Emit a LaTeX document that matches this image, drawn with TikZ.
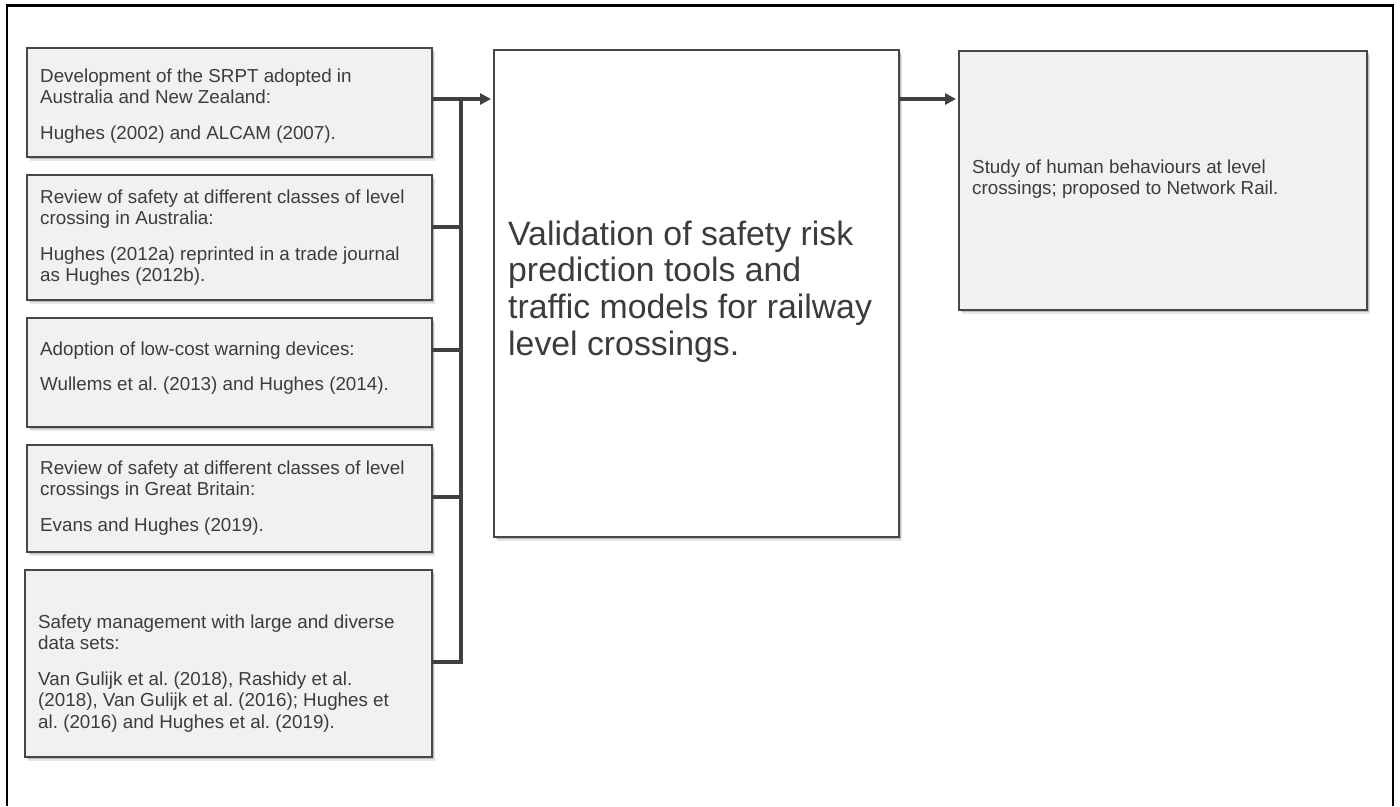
\documentclass[tikz,border=0pt]{standalone}
\usepackage{fontspec}
\setmainfont{Liberation Sans}
\usetikzlibrary{shadows,arrows.meta,calc}
\frenchspacing
\definecolor{txt}{HTML}{3C3C3C}
\definecolor{boxfill}{HTML}{F1F1F1}
\definecolor{boxline}{HTML}{474747}
\definecolor{conncol}{HTML}{404040}
\tikzset{
  softshadow/.style={
    general shadow={fill=black, opacity=0.18, shadow xshift=1.5pt, shadow yshift=-2pt},
    general shadow={fill=black, opacity=0.10, shadow xshift=3pt, shadow yshift=-4pt}},
  srcbox/.style={draw=boxline, line width=1.8pt, fill=boxfill, softshadow},
  mainbox/.style={draw=boxline, line width=1.8pt, fill=white, softshadow},
  boxtext/.style={inner sep=0pt, anchor=base west, text=txt},
  conn/.style={draw=conncol, line width=3.5pt, line join=miter},
  arr/.style={conn, -{Triangle[length=11pt,width=11pt]}, shorten >=3pt}
}
\newcommand{\smalltxt}[1]{\parbox[t]{400pt}{\frenchspacing\fontsize{18.8pt}{21.6pt}\selectfont\raggedright #1}}
\newcommand{\bigtxt}[1]{\parbox[t]{395pt}{\frenchspacing\fontsize{33.8pt}{36.7pt}\selectfont\raggedright #1}}
\begin{document}
\begin{tikzpicture}[x=1pt,y=-1pt]
\useasboundingbox (0,0) rectangle (1400,806);
% outer frame (bottom edge lies outside the picture)
\draw[line width=2.8pt, line cap=butt] (7,806) -- (7,5.7) -- (1393,5.7) -- (1393,806);

% source boxes
\path[srcbox] (27,48) rectangle (432,157);
\node[inner sep=0pt, minimum width=405pt, minimum height=109pt, anchor=north west] (b1) at (27,48) {};
\path[srcbox] (27,175) rectangle (432,300);
\node[inner sep=0pt, minimum width=405pt, minimum height=125pt, anchor=north west] (b2) at (27,175) {};
\path[srcbox] (27,318) rectangle (432,427);
\node[inner sep=0pt, minimum width=405pt, minimum height=109pt, anchor=north west] (b3) at (27,318) {};
\path[srcbox] (27,445) rectangle (432,552);
\node[inner sep=0pt, minimum width=405pt, minimum height=107pt, anchor=north west] (b4) at (27,445) {};
\path[srcbox] (25,570) rectangle (432,757);
\node[inner sep=0pt, minimum width=407pt, minimum height=187pt, anchor=north west] (b5) at (25,570) {};

% main and result boxes
\path[mainbox] (494,50) rectangle (899,537);
\node[inner sep=0pt, minimum width=405pt, minimum height=487pt, anchor=north west] (c) at (494,50) {};
\path[srcbox] (959,51) rectangle (1367,310);
\node[inner sep=0pt, minimum width=408pt, minimum height=259pt, anchor=north west] (r) at (959,51) {};

% texts
\node[boxtext] (t1) at (40,82) {\smalltxt{Development of the SRPT adopted in\\Australia and New Zealand:\\[14pt]Hughes (2002) and ALCAM (2007).}};
\node[boxtext] (t2) at (40,203) {\smalltxt{Review of safety at different classes of level\\crossing in Australia:\\[14pt]Hughes (2012a) reprinted in a trade journal\\as Hughes (2012b).}};
\node[boxtext] (t3) at (40,355) {\smalltxt{Adoption of low-cost warning devices:\\[14pt]Wullems et al. (2013) and Hughes (2014).}};
\node[boxtext] (t4) at (40,474) {\smalltxt{Review of safety at different classes of level\\crossings in Great Britain:\\[14pt]Evans and Hughes (2019).}};
\node[boxtext] (t5) at (38,628) {\smalltxt{Safety management with large and diverse\\data sets:\\[14pt]Van Gulijk et al. (2018), Rashidy et al.\\(2018), Van Gulijk et al. (2016); Hughes et\\al. (2016) and Hughes et al. (2019).}};
\node[boxtext] (tc) at (508,245) {\bigtxt{Validation of safety risk\\prediction tools and\\traffic models for railway\\level crossings.}};
\node[boxtext] (tr) at (972,173) {\smalltxt{Study of human behaviours at level\\crossings; proposed to Network Rail.}};

% connectors
\coordinate (bus1) at (461,99);
\coordinate (bus2) at (461,227);
\coordinate (bus3) at (461,350);
\coordinate (bus4) at (461,497);
\coordinate (bus5) at (461,662);
\draw[conn] (b5.east |- bus5) -- (bus5) -- (bus1);
\draw[conn] (b2.east |- bus2) -- (bus2);
\draw[conn] (b3.east |- bus3) -- (bus3);
\draw[conn] (b4.east |- bus4) -- (bus4);
\draw[arr] (b1.east |- bus1) -- (c.west |- bus1);
\draw[arr] (c.east |- bus1) -- (r.west |- bus1);
\end{tikzpicture}
\end{document}
